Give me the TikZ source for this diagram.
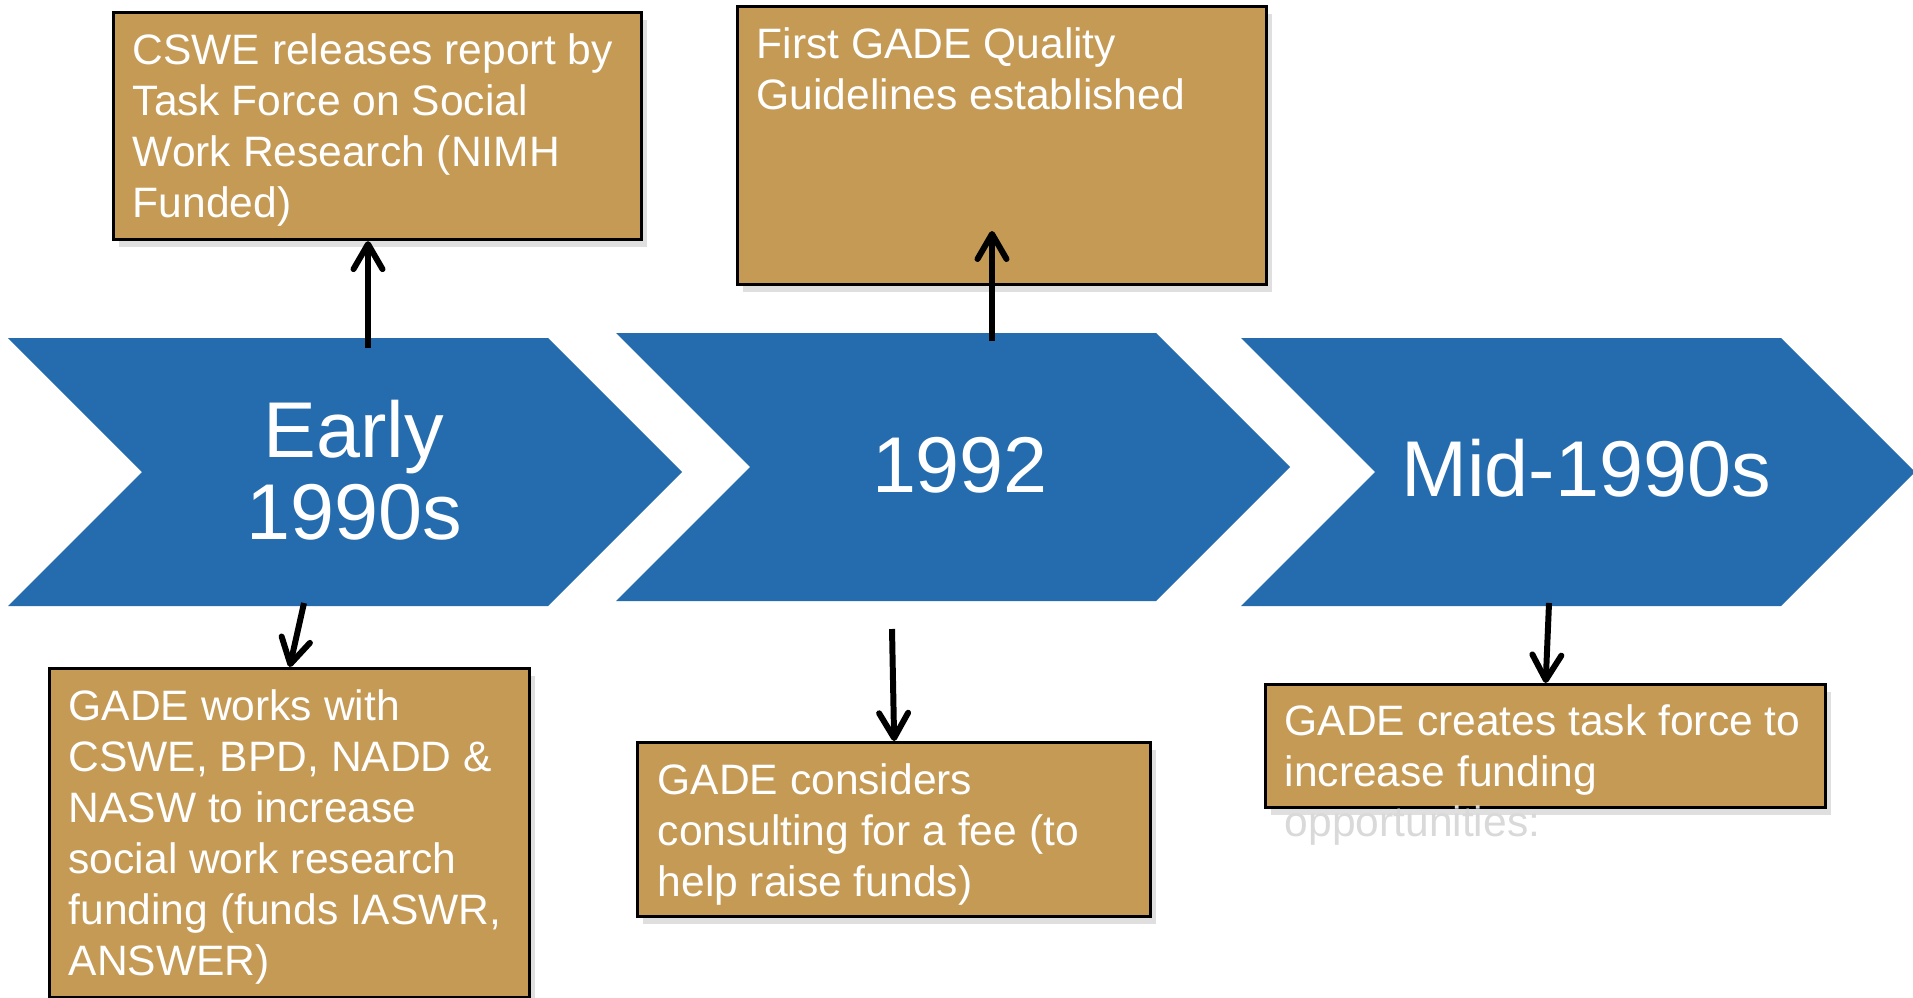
\documentclass[tikz,border=0pt]{standalone}
\usepackage{fontspec}
\setmainfont{Liberation Sans}
\usetikzlibrary{arrows.meta,shadows}
\definecolor{chevblue}{RGB}{37,108,174}
\definecolor{boxtan}{RGB}{196,154,85}

\begin{document}
\begin{tikzpicture}[x=0.01cm,y=-0.01cm,
  chev/.style={fill=chevblue},
  evbox/.style={draw=black,line width=0.85pt,fill=boxtan,anchor=north west,inner sep=0pt,
    drop shadow={opacity=0.25,shadow xshift=1.5pt,shadow yshift=-2pt}},
  evtext/.style={anchor=north west,inner sep=0pt,align=left,text=white,
    font=\fontsize{12.1}{14.5}\selectfont},
  yeartext/.style={inner sep=0pt,align=center,text=white,font=\fontsize{22.5}{23.3}\selectfont},
  link/.style={line width=1.7pt,-{Straight Barb[length=2.5mm,width=2.9mm,round]}}]

\useasboundingbox (0,0) rectangle (1913,997);

% chevrons
\fill[chev] (8,338)--(548,338)--(682,472)--(548,606)--(8,606)--(142,472)--cycle;
\fill[chev] (616,333)--(1156,333)--(1290,467)--(1156,601)--(616,601)--(750,467)--cycle;
\fill[chev] (1241,338)--(1781,338)--(1915,472)--(1781,606)--(1241,606)--(1375,472)--cycle;

\node[yeartext] (early) at (354,470) {Early\\1990s};
\node[yeartext] (y92) at (960,465) {1992};
\node[yeartext] (mid) at (1586,468) {Mid-1990s};

% boxes above
\node[evbox,minimum width=5.28cm,minimum height=2.27cm] (report) at (112,11) {};
\node[evtext] (reporttxt) at ([shift={(0.2cm,-0.22cm)}]report.north west)
  {CSWE releases report by\\Task Force on Social\\Work Research (NIMH\\Funded)};

\node[evbox,minimum width=5.29cm,minimum height=2.78cm] (guide) at (736,5) {};
\node[evtext] (guidetxt) at ([shift={(0.2cm,-0.22cm)}]guide.north west)
  {First GADE Quality\\Guidelines established};

% boxes below
\node[evbox,minimum width=4.80cm,minimum height=3.29cm] (works) at (48,667) {};
\node[evtext] (workstxt) at ([shift={(0.2cm,-0.22cm)}]works.north west)
  {GADE works with\\CSWE, BPD, NADD \&\\NASW to increase\\social work research\\funding (funds IASWR,\\ANSWER)};

\node[evbox,minimum width=5.13cm,minimum height=1.74cm] (consult) at (636,741) {};
\node[evtext] (consulttxt) at ([shift={(0.21cm,-0.22cm)}]consult.north west)
  {GADE considers\\consulting for a fee (to\\help raise funds)};

\node[evbox,minimum width=5.60cm,minimum height=1.23cm] (taskforce) at (1264,683) {};
\node[evtext] (tasktxt) at ([shift={(0.2cm,-0.21cm)}]taskforce.north west)
  {GADE creates task force to\\increase funding};
\node[anchor=base west,inner sep=0pt,text=black!15,font=\fontsize{12.1}{14.5}\selectfont]
  (opport) at (1284,836) {opportunities:};

% arrows
\coordinate (reporttail) at (368,348);
\coordinate (guidetail) at (992,341);
\coordinate (guidetip) at (992,231);
\coordinate (workstail) at (304,603);
\coordinate (consulttail) at (892,629);
\coordinate (tasktail) at (1549,603);

\draw[link] (reporttail) -- (reporttail |- report.south);
\draw[link] (guidetail) -- (guidetip);
\draw[link] (workstail) -- (works.north);
\draw[link] (consulttail) -- (consult.north);
\draw[link] (tasktail) -- (taskforce.north);
\end{tikzpicture}
\end{document}
